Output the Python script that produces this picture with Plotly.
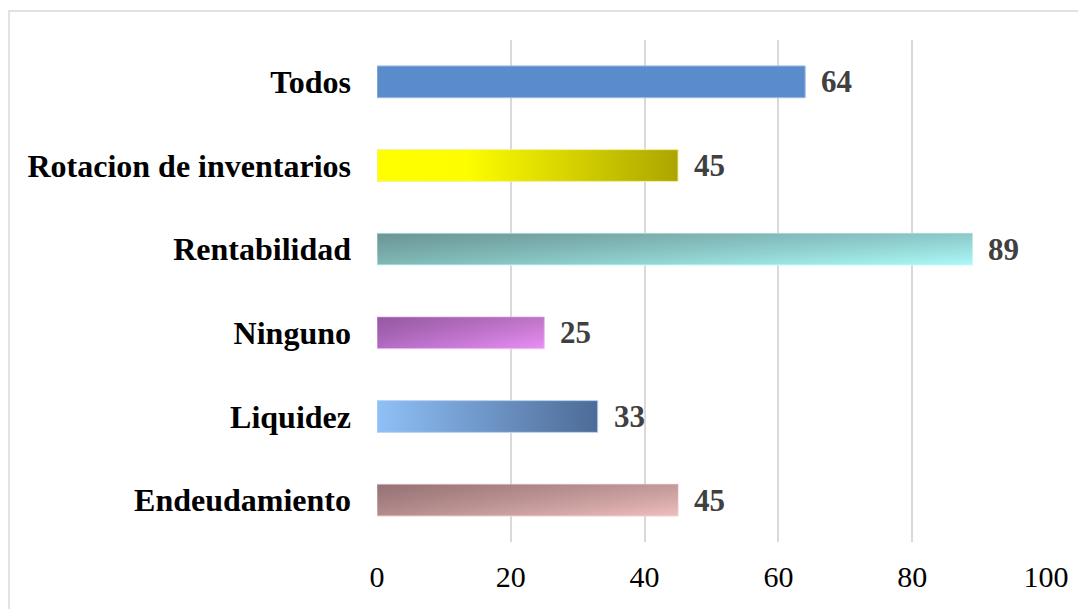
import plotly.graph_objects as go

# data (bottom to top)
categories = ["Endeudamiento", "Liquidez", "Ninguno", "Rentabilidad",
              "Rotacion de inventarios", "Todos"]
values = [45, 33, 25, 89, 45, 64]
x_ticks = [0, 20, 40, 60, 80, 100]

# styles: horizontal gradient stops, optional top shade, outline colour
bar_styles = {
    "Endeudamiento": ([[0, "#b58c8d"], [1, "#efbebd"]], True, "#f3d2d2"),
    "Liquidez": ([[0, "#8fc0f7"], [1, "#4d6b96"]], False, "#b9d6f5"),
    "Ninguno": ([[0, "#b36cc4"], [1, "#ea8ff6"]], True, "#f0c0f7"),
    "Rentabilidad": ([[0, "#80b9b7"], [1, "#abfbf9"]], True, "#c8fbfa"),
    "Rotacion de inventarios": ([[0, "#ffff00"], [0.3, "#fdfd00"], [1, "#aca500"]], False, "#f2f0a0"),
    "Todos": ([[0, "#5a8bcb"], [1, "#5a8bcb"]], False, "#9dbbe3"),
}

FONT = "Liberation Serif, Times New Roman, serif"
# page body adds an 8px offset, so the figure is drawn 8px smaller
OFF = 8
W, H = 1086 - OFF, 609 - OFF
L, R, T, B = 377 - OFF, 40, 40 - OFF, 67
half = 0.19

fig = go.Figure()
for i, (cat, v) in enumerate(zip(categories, values)):
    scale, shade, edge = bar_styles[cat]
    xs = [0, v, v, 0, 0]
    ys = [i - half, i - half, i + half, i + half, i - half]
    fig.add_trace(go.Scatter(
        x=xs, y=ys, mode="lines", fill="toself",
        line=dict(color=edge, width=1),
        fillgradient=dict(type="horizontal", colorscale=scale),
        hoverinfo="skip", showlegend=False,
    ))
    if shade:
        fig.add_trace(go.Scatter(
            x=xs, y=ys, mode="lines", fill="toself",
            line=dict(width=0),
            fillgradient=dict(type="vertical",
                              colorscale=[[0, "rgba(0,0,0,0)"], [1, "rgba(40,20,30,0.22)"]]),
            hoverinfo="skip", showlegend=False,
        ))
    fig.add_annotation(
        x=v, y=i, text=str(v), showarrow=False, xanchor="left", xshift=14,
        font=dict(family=FONT, size=31, color="#404040", weight="bold"),
    )

# outer chart frame (9px from the left, 11px from the top of the window)
pw, ph = W - L - R, H - T - B
fig.add_shape(
    type="rect", xref="paper", yref="paper",
    x0=(9 - OFF - L) / pw, x1=(W + 5 - L) / pw,
    y0=-(B + 10) / ph, y1=((H - B) - (11 - OFF)) / ph,
    line=dict(color="#d9d9d9", width=1.5), layer="below",
)

fig.update_layout(
    width=W, height=H,
    margin=dict(l=L, r=R, t=T, b=B),
    plot_bgcolor="white", paper_bgcolor="white",
    font=dict(family=FONT, color="#000"),
)
fig.update_xaxes(
    range=[0, 100], tickvals=x_ticks, showgrid=True, gridcolor="#d9d9d9", gridwidth=2,
    zeroline=False, showline=False, ticks="", ticklabelstandoff=14,
    tickfont=dict(family=FONT, size=30, color="#000"),
)
fig.update_yaxes(
    range=[-0.5, 5.5], tickvals=list(range(len(categories))), ticktext=categories,
    showgrid=False, zeroline=False, showline=False, ticks="", ticklabelstandoff=25,
    tickfont=dict(family=FONT, size=32, color="#000", weight="bold"),
)

fig.write_html("out.html")
